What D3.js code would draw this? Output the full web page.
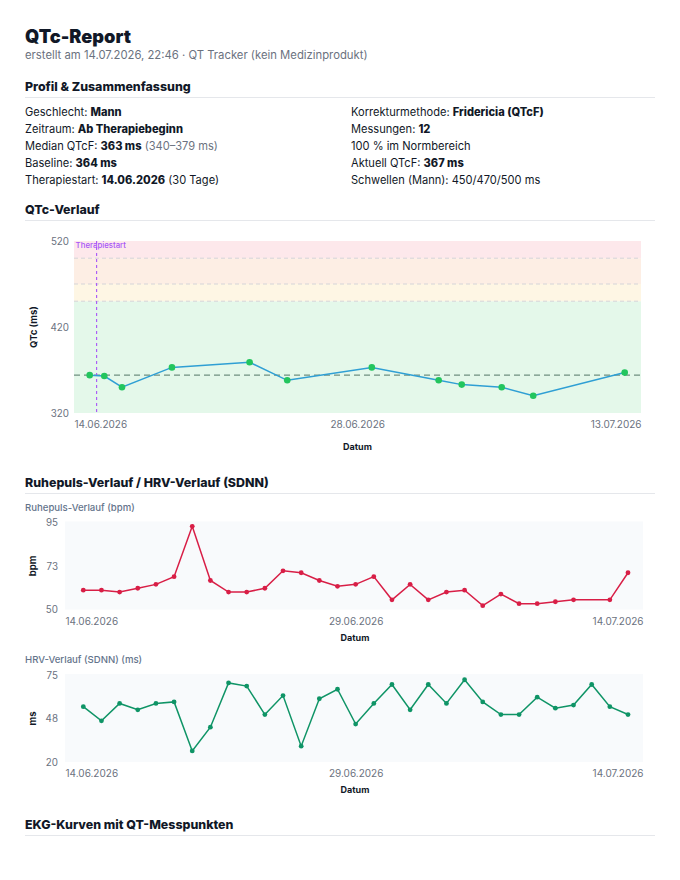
<!DOCTYPE html>
<html>
<head>
<meta charset="utf-8">
<script src="https://cdn.jsdelivr.net/npm/d3@7"></script>
<style>
  body { margin: 0; background: #fff; }
  svg text { font-family: Inter, "Noto Sans", sans-serif; }
</style>
</head>
<body>
<svg id="report"></svg>
<script>
// ---- data ----
var qtcDates = ["2026-06-14 08:00", "2026-06-15 03:00", "2026-06-16 02:00", "2026-06-18 19:00",
  "2026-06-23 00:00", "2026-06-25 01:00", "2026-06-29 15:00", "2026-07-03 06:00",
  "2026-07-04 12:00", "2026-07-06 16:00", "2026-07-08 09:00", "2026-07-13 08:00"];
var qtcValues = [364, 363, 350, 373, 379, 358, 373, 358, 353, 350, 340, 367];
var qtcBaseline = 364;
var therapyStart = "2026-06-14 17:00";
var qtcBands = [
  {from: 320, to: 450, color: "#e4f8ea"},
  {from: 450, to: 470, color: "#fef6e4"},
  {from: 470, to: 500, color: "#fdeee4"},
  {from: 500, to: 520, color: "#fde8eb"}
];
var qtcThresholds = [450, 470, 500];
var qtcDomain = [320, 520];

var hrDates = ["2026-06-14", "2026-06-15", "2026-06-16", "2026-06-17", "2026-06-18", "2026-06-19",
  "2026-06-20", "2026-06-21", "2026-06-22", "2026-06-23", "2026-06-24", "2026-06-25", "2026-06-26",
  "2026-06-27", "2026-06-28", "2026-06-29", "2026-06-30", "2026-07-01", "2026-07-02", "2026-07-03",
  "2026-07-04", "2026-07-05", "2026-07-06", "2026-07-07", "2026-07-08", "2026-07-09", "2026-07-10",
  "2026-07-11", "2026-07-13", "2026-07-14"];
var hrValues = [60, 60, 59, 61, 63, 67, 93, 65, 59, 59, 61, 70, 69, 65, 62, 63, 67, 55, 63, 55,
  59, 60, 52, 58, 53, 53, 54, 55, 55, 69];
var hrDomain = [50, 95];

var hrvDates = ["2026-06-14", "2026-06-15", "2026-06-16", "2026-06-17", "2026-06-18", "2026-06-19",
  "2026-06-20", "2026-06-21", "2026-06-22", "2026-06-23", "2026-06-24", "2026-06-25", "2026-06-26",
  "2026-06-27", "2026-06-28", "2026-06-29", "2026-06-30", "2026-07-01", "2026-07-02", "2026-07-03",
  "2026-07-04", "2026-07-05", "2026-07-06", "2026-07-07", "2026-07-08", "2026-07-09", "2026-07-10",
  "2026-07-11", "2026-07-12", "2026-07-13", "2026-07-14"];
var hrvValues = [55, 46, 57, 53, 57, 58, 27, 42, 70, 68, 50, 62, 30, 60, 66, 44, 57, 69, 53, 69,
  57, 72, 58, 50, 50, 61, 54, 56, 69, 55, 50];
var hrvDomain = [20, 75];

var profileLeft = [
  [["Geschlecht: ", "n"], ["Mann", "b"]],
  [["Zeitraum: ", "n"], ["Ab Therapiebeginn", "b"]],
  [["Median QTcF: ", "n"], ["363 ms", "b"], [" (340–379 ms)", "g"]],
  [["Baseline: ", "n"], ["364 ms", "b"]],
  [["Therapiestart: ", "n"], ["14.06.2026", "b"], [" (30 Tage)", "n"]]
];
var profileRight = [
  [["Korrekturmethode: ", "n"], ["Fridericia (QTcF)", "b"]],
  [["Messungen: ", "n"], ["12", "b"]],
  [["100 % im Normbereich", "n"]],
  [["Aktuell QTcF: ", "n"], ["367 ms", "b"]],
  [["Schwellen (Mann): 450/470/500 ms", "n"]]
];

var parseTime = d3.timeParse("%Y-%m-%d %H:%M");
var parseDay = d3.timeParse("%Y-%m-%d");
var fmtDate = d3.timeFormat("%d.%m.%Y");

var dark = "#111827", gray = "#6b7280";

var svg = d3.select("#report")
  .attr("width", 680)
  .attr("height", 880);

// ---- header ----
svg.append("text").attr("x", 25).attr("y", 43)
  .text("QTc-Report")
  .style("font-size", "18.2px").style("font-weight", 900).style("fill", dark);
svg.append("text").attr("x", 25).attr("y", 59)
  .text("erstellt am 14.07.2026, 22:46 · QT Tracker (kein Medizinprodukt)")
  .style("font-size", "11.3px").style("fill", gray);

function heading(text, y) {
  svg.append("text").attr("x", 25).attr("y", y)
    .text(text)
    .style("font-size", "12.4px").style("font-weight", 800).style("fill", dark);
  svg.append("line")
    .attr("x1", 25).attr("x2", 655)
    .attr("y1", y + 6.5).attr("y2", y + 6.5)
    .style("stroke", "#e5e7eb").style("stroke-width", 1);
}

heading("Profil & Zusammenfassung", 91);
heading("QTc-Verlauf", 214);
heading("Ruhepuls-Verlauf / HRV-Verlauf (SDNN)", 487);
heading("EKG-Kurven mit QT-Messpunkten", 829);

// ---- profile ----
function profileColumn(rows, x) {
  rows.forEach(function(parts, i) {
    var t = svg.append("text").attr("x", x).attr("y", 115.5 + i * 17)
      .style("font-size", "11.1px").style("fill", dark);
    parts.forEach(function(p) {
      t.append("tspan").text(p[0])
        .style("font-weight", p[1] == "b" ? 800 : 400)
        .style("fill", p[1] == "g" ? gray : dark);
    });
  });
}
profileColumn(profileLeft, 25);
profileColumn(profileRight, 351);

// ---- shared helpers ----
function dateAxis(g, x, plotLeft, plotRight, y0, d0, d1) {
  var mid = new Date((d0.getTime() + d1.getTime()) / 2);
  var axis = g.append("g")
    .attr("transform", "translate(0," + y0 + ")")
    .call(d3.axisBottom(x).tickValues([d0, mid, d1]).tickFormat(fmtDate).tickSize(0).tickPadding(8));
  axis.select(".domain").remove();
  axis.selectAll("text")
    .style("font-size", "10px").style("fill", gray).style("font-family", "Inter, sans-serif")
    .each(function(d, i) {
      if (i == 0) d3.select(this).attr("text-anchor", "start").attr("x", plotLeft - x(d0));
      if (i == 2) d3.select(this).attr("text-anchor", "end").attr("x", plotRight - x(d1));
    });
}

function valueAxis(g, y, x0, dom) {
  var axis = g.append("g")
    .attr("transform", "translate(" + x0 + ",0)")
    .call(d3.axisLeft(y).tickValues([dom[0], (dom[0] + dom[1]) / 2, dom[1]])
      .tickFormat(function(v) { return v.toFixed(0); }).tickSize(0).tickPadding(5));
  axis.select(".domain").remove();
  axis.selectAll("text")
    .style("font-size", "9.8px").style("fill", gray).style("font-family", "Inter, sans-serif");
}

function axisTitles(yTitle, yx, yy, xx, xy) {
  svg.append("text")
    .attr("transform", "translate(" + yx + "," + yy + ")rotate(-90)")
    .attr("text-anchor", "middle")
    .text(yTitle)
    .style("font-size", "9.5px").style("font-weight", 700).style("fill", dark);
  svg.append("text")
    .attr("x", xx).attr("y", xy)
    .attr("text-anchor", "middle")
    .text("Datum")
    .style("font-size", "9px").style("font-weight", 700).style("fill", dark);
}

// ---- QTc chart ----
var qL = 74, qR = 641, qT = 241, qB = 413;
var qtcData = qtcDates.map(function(d, i) { return {date: parseTime(d), value: qtcValues[i]}; });
var qx = d3.scaleTime()
  .domain(d3.extent(qtcData, function(d) { return d.date; }))
  .range([qL + 15.7, qR - 16.3]);
var qy = d3.scaleLinear().domain(qtcDomain).range([qB, qT]);
var qg = svg.append("g");

qg.selectAll("rect.band")
  .data(qtcBands)
  .enter().append("rect")
  .attr("class", "band")
  .attr("x", qL).attr("width", qR - qL)
  .attr("y", function(d) { return qy(d.to); })
  .attr("height", function(d) { return qy(d.from) - qy(d.to); })
  .attr("fill", function(d) { return d.color; });

qg.selectAll("line.thr")
  .data(qtcThresholds)
  .enter().append("line")
  .attr("class", "thr")
  .attr("x1", qL).attr("x2", qR)
  .attr("y1", function(d) { return qy(d); }).attr("y2", function(d) { return qy(d); })
  .style("stroke", "#d4d4d8").style("stroke-width", 1).style("stroke-dasharray", "4,3");

qg.append("line")
  .attr("x1", qL).attr("x2", qR)
  .attr("y1", qy(qtcBaseline)).attr("y2", qy(qtcBaseline))
  .style("stroke", "#6f8f80").style("stroke-width", 1.2).style("stroke-dasharray", "6,4");

var ts = parseTime(therapyStart);
qg.append("line")
  .attr("x1", qx(ts)).attr("x2", qx(ts))
  .attr("y1", qT).attr("y2", qB)
  .style("stroke", "#a855f7").style("stroke-width", 1.1).style("stroke-dasharray", "3,3");
qg.append("text")
  .attr("x", qx(ts) - 21).attr("y", qT + 7)
  .text("Therapiestart")
  .style("font-size", "7.8px").style("font-weight", 500).style("fill", "#a855f7");

qg.append("path")
  .datum(qtcData)
  .attr("d", d3.line().x(function(d) { return qx(d.date); }).y(function(d) { return qy(d.value); }))
  .style("fill", "none").style("stroke", "#2f9fd4").style("stroke-width", 1.5);

qg.selectAll("circle")
  .data(qtcData)
  .enter().append("circle")
  .attr("cx", function(d) { return qx(d.date); })
  .attr("cy", function(d) { return qy(d.value); })
  .attr("r", 3.3)
  .attr("fill", "#22c55e");

valueAxis(qg, qy, qL, qtcDomain);
dateAxis(qg, qx, qL, qR, qB, qtcData[0].date, qtcData[qtcData.length - 1].date);
axisTitles("QTc (ms)", 37, (qT + qB) / 2, (qL + qR) / 2, 450);

// ---- small line charts (HR, HRV) ----
function smallChart(dates, values, dom, top, color, subtitle, yTitle) {
  var L = 65, R = 643, T = top, B = top + 87;
  var data = dates.map(function(d, i) { return {date: parseDay(d), value: values[i]}; });
  var x = d3.scaleTime()
    .domain(d3.extent(data, function(d) { return d.date; }))
    .range([L + 18.3, R - 15]);
  var y = d3.scaleLinear().domain(dom).range([B, T]);
  var g = svg.append("g");

  svg.append("text").attr("x", 25).attr("y", T - 12)
    .text(subtitle)
    .style("font-size", "9.6px").style("font-weight", 500).style("fill", "#64748b");

  g.append("rect")
    .attr("x", L).attr("y", T - 1).attr("width", R - L).attr("height", B - T + 1)
    .attr("fill", "#f8fafc");

  g.append("path")
    .datum(data)
    .attr("d", d3.line().x(function(d) { return x(d.date); }).y(function(d) { return y(d.value); }))
    .style("fill", "none").style("stroke", color).style("stroke-width", 1.5);

  g.selectAll("circle")
    .data(data)
    .enter().append("circle")
    .attr("cx", function(d) { return x(d.date); })
    .attr("cy", function(d) { return y(d.value); })
    .attr("r", 2.4)
    .attr("fill", color);

  valueAxis(g, y, L - 2, dom);
  dateAxis(g, x, L, R, B, data[0].date, data[data.length - 1].date);
  axisTitles(yTitle, 36, (T + B) / 2, 355, B + 31);
}

smallChart(hrDates, hrValues, hrDomain, 522.5, "#d81e46", "Ruhepuls-Verlauf (bpm)", "bpm");
smallChart(hrvDates, hrvValues, hrvDomain, 675, "#0f9466", "HRV-Verlauf (SDNN) (ms)", "ms");
</script>
</body>
</html>
